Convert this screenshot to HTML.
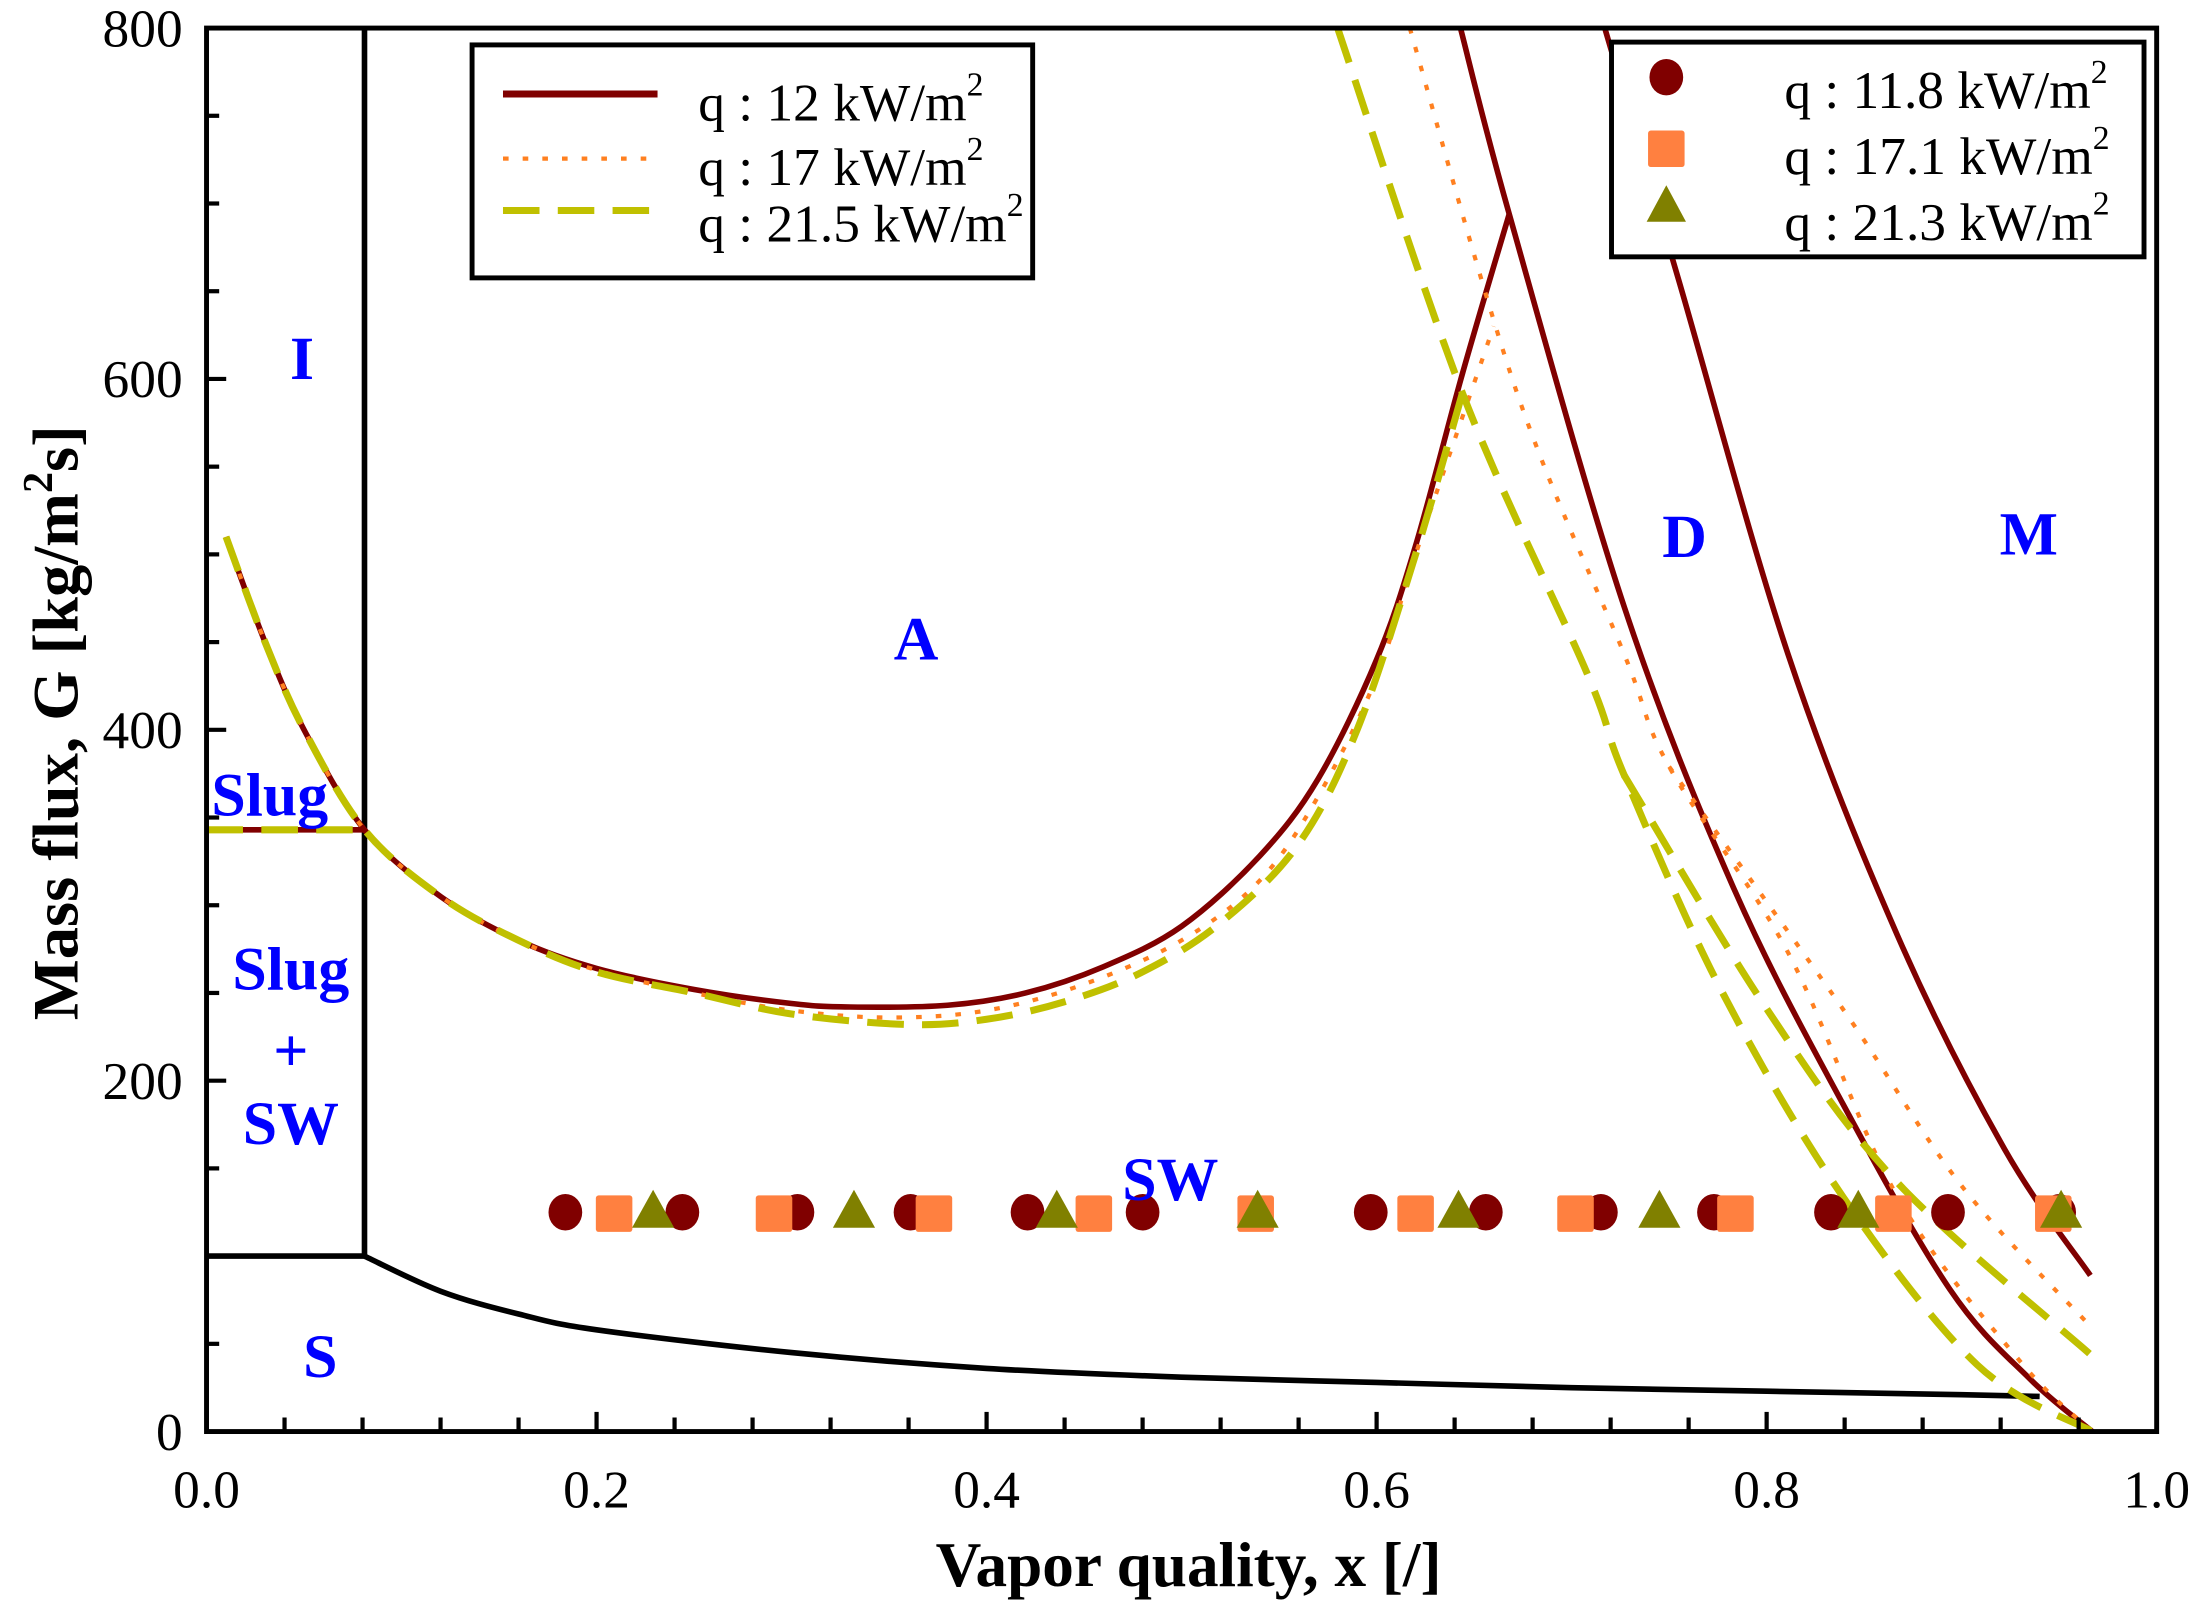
<!DOCTYPE html>
<html><head><meta charset="utf-8">
<style>
html,body{margin:0;padding:0;background:#fff;}
svg{display:block;}
text{font-family:"Liberation Serif",serif;}
.tick{font-size:38px;fill:#000;}
.reg{font-size:44px;font-weight:bold;fill:#0000ff;}
.leg{font-size:38px;fill:#000;}
</style></head>
<body>
<svg id="chart" width="2196" height="1614" viewBox="0 0 1563 1150" preserveAspectRatio="none" xmlns="http://www.w3.org/2000/svg">
<g id="clip-defs"><defs><clipPath id="plotclip"><rect x="147" y="20" width="1388" height="1000"/></clipPath></defs></g>
<g id="curves" clip-path="url(#plotclip)"></g>
<g id="marks"></g>
<g id="axes"></g>
<g id="labels">
<text class="reg" x="215" y="270" text-anchor="middle">I</text>
<text class="reg" x="192" y="581" text-anchor="middle">Slug</text>
<text class="reg" x="207" y="705" text-anchor="middle">Slug</text>
<text class="reg" x="207" y="763" text-anchor="middle">+</text>
<text class="reg" x="207" y="815" text-anchor="middle">SW</text>
<text class="reg" x="228" y="981" text-anchor="middle">S</text>
<text class="reg" x="652" y="470" text-anchor="middle">A</text>
<text class="reg" x="833" y="855" text-anchor="middle">SW</text>
<text class="reg" x="1199" y="397" text-anchor="middle">D</text>
<text class="reg" x="1444" y="395" text-anchor="middle">M</text>
<text x="846" y="1130" text-anchor="middle" font-size="45" font-weight="bold">Vapor quality, x [/]</text>
<text transform="translate(55,515) rotate(-90)" text-anchor="middle" font-size="46" font-weight="bold">Mass flux, G [kg/m<tspan font-size="30" dy="-18">2</tspan><tspan dy="18">s]</tspan></text>
</g>
<g id="legend1">
<rect x="336" y="32" width="399" height="166" fill="#fff" stroke="#000" stroke-width="3.5"/>
<line x1="358" y1="67" x2="468" y2="67" stroke="#800000" stroke-width="5"/>
<line x1="358" y1="113" x2="468" y2="113" stroke="#ff8020" stroke-width="3" stroke-dasharray="4 10"/>
<line x1="358" y1="150" x2="468" y2="150" stroke="#c0c000" stroke-width="5" stroke-dasharray="26 13"/>
<text class="leg" x="497" y="86">q : 12  kW/m<tspan font-size="24" dy="-18">2</tspan></text>
<text class="leg" x="497" y="132">q : 17  kW/m<tspan font-size="24" dy="-18">2</tspan></text>
<text class="leg" x="497" y="172">q : 21.5 kW/m<tspan font-size="24" dy="-18">2</tspan></text>
</g>
<g id="legend2">
<rect x="1147" y="30" width="379" height="153" fill="#fff" stroke="#000" stroke-width="3.5"/>
<ellipse cx="1186" cy="55" rx="12" ry="13" fill="#800000"/>
<rect x="1173" y="93" width="26" height="26" rx="2" fill="#ff8040"/>
<polygon points="1186,132 1172,158 1200,158" fill="#808000"/>
<text class="leg" x="1270" y="77">q : 11.8 kW/m<tspan font-size="24" dy="-18">2</tspan></text>
<text class="leg" x="1270" y="124">q : 17.1 kW/m<tspan font-size="24" dy="-18">2</tspan></text>
<text class="leg" x="1270" y="171">q : 21.3 kW/m<tspan font-size="24" dy="-18">2</tspan></text>
</g>
</svg>
<script>
const xTicks=[0,0.2,0.4,0.6,0.8,1.0];
const xTickLabels=["0.0","0.2","0.4","0.6","0.8","1.0"];
const yTicks=[0,200,400,600,800];
const yTickLabels=["0","200","400","600","800"];
// black boundaries
const boundaryX=[0.081,0.12,0.16,0.2,0.3,0.4,0.5,0.6,0.7,0.8,0.9,0.94];
const boundaryG=[100,80,67,58,45,36,31,28,25,23,21,20];
const slugG=343, stratG=100, intermitX=0.081;
// q=12 model
const q12UX=[0.01,0.03,0.05,0.081,0.12,0.16,0.2,0.25,0.3,0.33,0.38,0.42,0.46,0.5,0.54,0.57,0.6,0.62,0.644,0.668];
const q12UG=[510,450,400,343,305,280,264,252,244,242,243,250,265,288,328,372,440,505,603,694];
const q12DX=[0.643,0.668,0.727,0.783,0.839,0.894,0.935,0.967];
const q12DG=[800,694,470,310,187,81,30,0];
const q12MX=[0.717,0.755,0.811,0.867,0.922,0.966];
const q12MG=[800,656,443,283,161,89];
// q=17 model
const q17UX=[0.01,0.03,0.05,0.081,0.12,0.16,0.2,0.25,0.3,0.35,0.4,0.45,0.5,0.54,0.57,0.6,0.62,0.66];
const q17UG=[510,450,400,343,305,280,263,250,240,236,240,255,280,314,362,430,500,630];
const q17DX=[0.617,0.672,0.727,0.75,0.811,0.867,0.93,0.967];
const q17DG=[800,592,443,379,273,134,40,0];
const q17MX=[0.75,0.839,0.9,0.966];
const q17MG=[379,241,140,60];
// q=21.5 model
const q21UX=[0.01,0.03,0.05,0.081,0.12,0.16,0.2,0.25,0.3,0.36,0.4,0.44,0.48,0.52,0.56,0.59,0.62,0.644];
const q21UG=[510,450,400,343,305,280,262,250,238,232,235,245,262,290,335,400,500,592];
const q21DX=[0.58,0.644,0.708,0.727,0.777,0.839,0.908,0.967];
const q21DG=[800,592,432,374,251,134,38,0];
const q21MX=[0.727,0.8,0.867,0.966];
const q21MG=[374,241,142,44];
// experimental points
const expG=125;
const circX=[0.184,0.244,0.303,0.361,0.421,0.480,0.597,0.656,0.715,0.773,0.833,0.893,0.950];
const sqX=[0.209,0.291,0.373,0.455,0.538,0.620,0.702,0.784,0.865,0.947];
const triX=[0.229,0.332,0.436,0.539,0.642,0.745,0.847,0.951];

const NS="http://www.w3.org/2000/svg";
const X=x=>147+x*1388, Y=g=>1020-g*1.25;
function mk(t,a,p){const e=document.createElementNS(NS,t);for(const k in a)e.setAttribute(k,a[k]);p.appendChild(e);return e;}
function pathD(xs,gs){
  const p=xs.map((x,i)=>[X(x),Y(gs[i])]);
  let d="M"+p[0][0]+","+p[0][1];
  for(let i=0;i<p.length-1;i++){
    const p0=p[i-1]||p[i],p1=p[i],p2=p[i+1],p3=p[i+2]||p2;
    const c1=[p1[0]+(p2[0]-p0[0])/6,p1[1]+(p2[1]-p0[1])/6];
    const c2=[p2[0]-(p3[0]-p1[0])/6,p2[1]-(p3[1]-p1[1])/6];
    d+=" C"+c1+" "+c2+" "+p2;
  }
  return d;
}
const cv=document.getElementById('curves');
function curve(xs,gs,st,name){
  const e=mk('path',Object.assign({d:pathD(xs,gs),fill:'none'},st),cv);
  
  
}
const sRed={stroke:'#800000','stroke-width':4};
const sDot={stroke:'#ff8020','stroke-width':3,'stroke-dasharray':'4 10'};
const sDash={stroke:'#c0c000','stroke-width':5,'stroke-dasharray':'26 13'};
curve([0,intermitX],[stratG,stratG],{stroke:'#000','stroke-width':4},'stratified-boundary-flat');
curve(boundaryX,boundaryG,{stroke:'#000','stroke-width':4},'stratified-boundary');
const vl=mk('line',{x1:X(intermitX),y1:Y(stratG),x2:X(intermitX),y2:Y(800),stroke:'#000','stroke-width':4},cv);


curve([0,intermitX],[slugG,slugG],sRed,'slug-boundary-q12');
curve([0,intermitX],[slugG,slugG],sDash,'slug-boundary-q21');
curve(q12UX,q12UG,sRed,'q12-annular-curve');
curve(q12DX,q12DG,sRed,'q12-dryout-curve');
curve(q12MX,q12MG,sRed,'q12-mist-curve');
curve(q17UX,q17UG,sDot,'q17-annular-curve');
curve(q17DX,q17DG,sDot,'q17-dryout-curve');
curve(q17MX,q17MG,sDot,'q17-mist-curve');
curve(q21UX,q21UG,sDash,'q21-annular-curve');
curve(q21DX,q21DG,sDash,'q21-dryout-curve');
curve(q21MX,q21MG,sDash,'q21-mist-curve');
const mg=document.getElementById('marks');
circX.forEach(x=>{const e=mk('ellipse',{cx:X(x),cy:Y(expG),rx:12,ry:13,fill:'#800000'},mg);

});
sqX.forEach(x=>{const e=mk('rect',{x:X(x)-13,y:Y(expG)-12,width:26,height:26,rx:2,fill:'#ff8040'},mg);

});
triX.forEach(x=>{const cx=X(x),cy=Y(expG);const e=mk('polygon',{points:(cx)+","+(cy-16)+" "+(cx-15)+","+(cy+11)+" "+(cx+15)+","+(cy+11),fill:'#808000'},mg);

});
const ax=document.getElementById('axes');
const fr=mk('rect',{x:147,y:20,width:1388,height:1000,fill:'none',stroke:'#000','stroke-width':3.5},ax);


for(let i=0;i<=25;i++){const x=i*0.04;const major=i%5===0;
  mk('line',{x1:X(x),y1:1020,x2:X(x),y2:1020-(major?14:10),stroke:'#000','stroke-width':3},ax);}
for(let i=0;i<=16;i++){const g=i*50;const major=i%4===0;
  mk('line',{x1:147,y1:Y(g),x2:147+(major?14:9),y2:Y(g),stroke:'#000','stroke-width':3},ax);}
xTicks.forEach((x,i)=>{const t=mk('text',{x:X(x),y:1074,'text-anchor':'middle','class':'tick'},ax);t.textContent=xTickLabels[i];

});
yTicks.forEach((g,i)=>{const t=mk('text',{x:130,y:Y(g)+13,'text-anchor':'end','class':'tick'},ax);t.textContent=yTickLabels[i];

});
</script>
</body></html>
